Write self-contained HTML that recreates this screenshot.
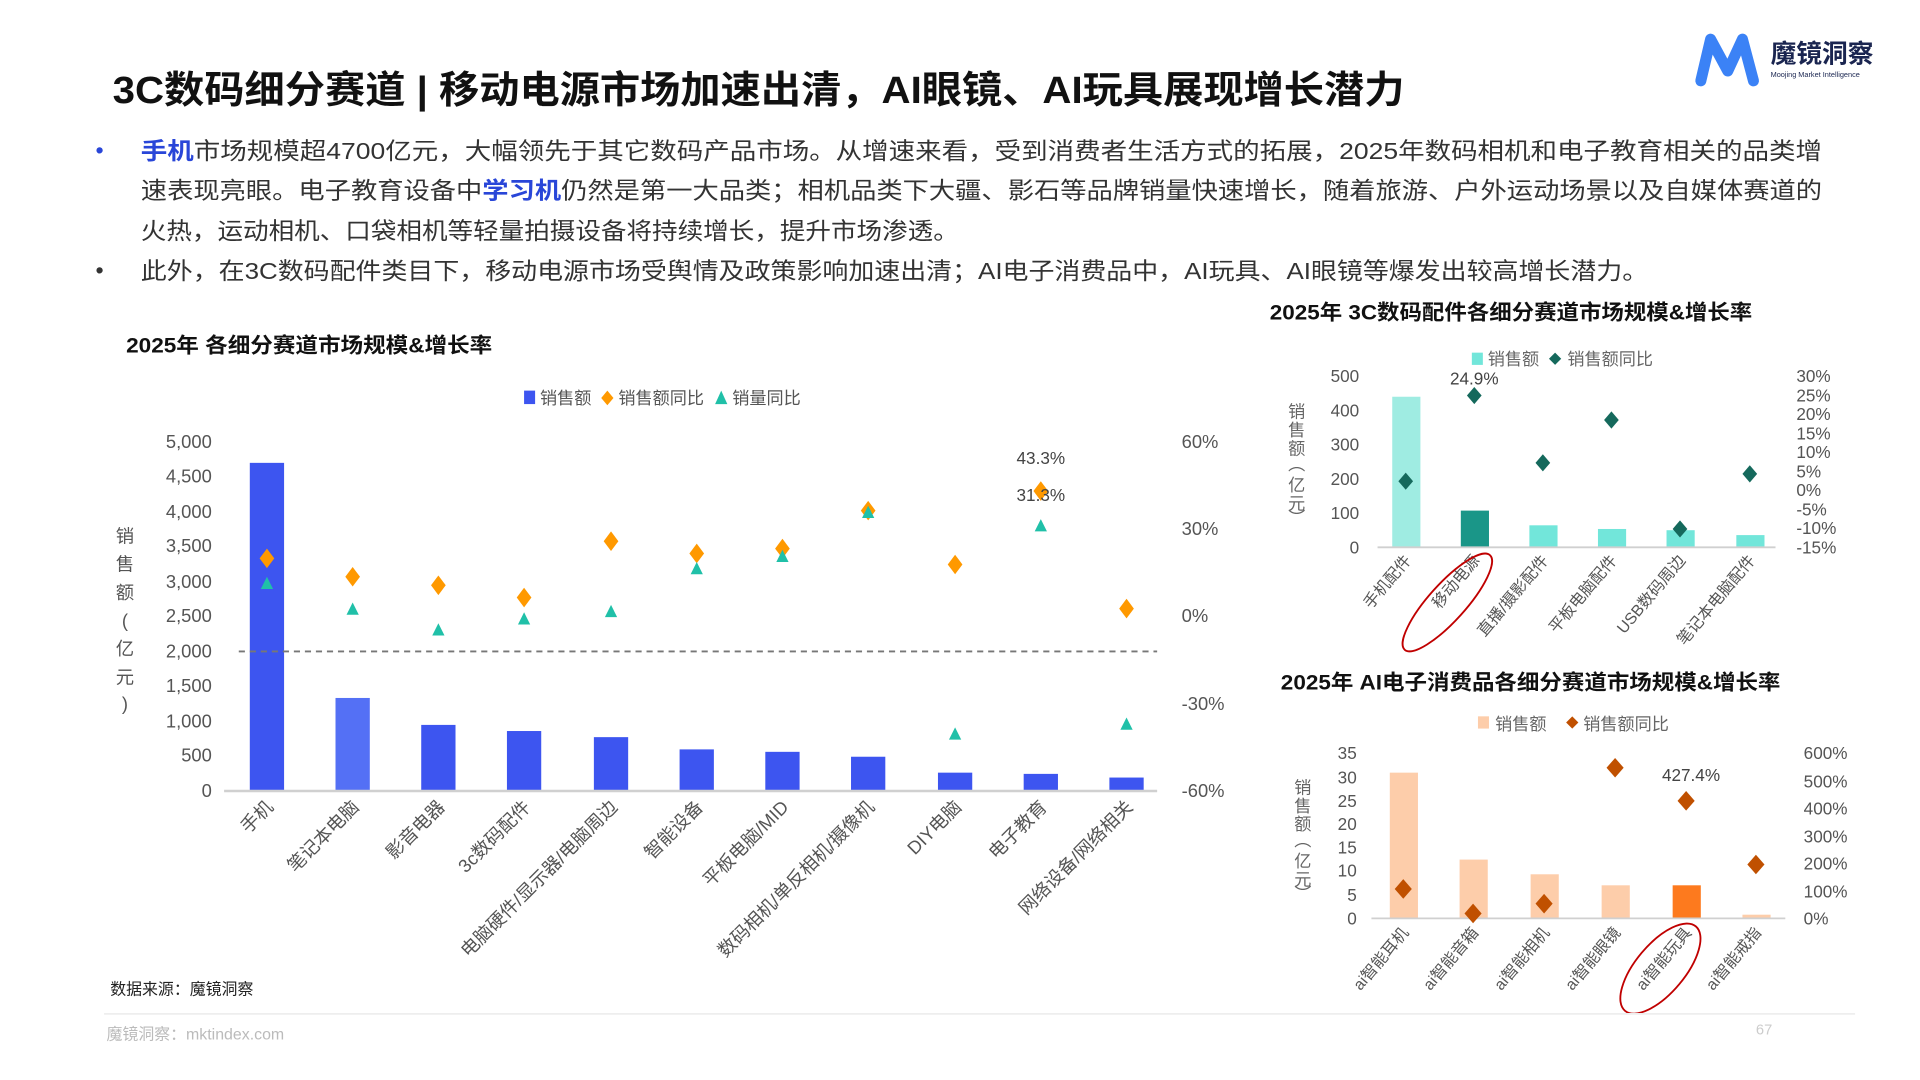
<!DOCTYPE html>
<html><head><meta charset="utf-8"><style>
html,body{margin:0;padding:0;background:#fff;width:1920px;height:1080px;overflow:hidden}
svg text{font-family:"Liberation Sans","Noto Sans CJK SC",sans-serif}
</style></head><body>
<svg width="1920" height="1080" viewBox="0 0 1568 882" preserveAspectRatio="none" xmlns="http://www.w3.org/2000/svg">
<!-- logo -->
<path d="M1389 66 L1397 32 L1411 58 L1423 32 L1432 66" fill="none" stroke="#3b82f6" stroke-width="9" stroke-linejoin="round" stroke-linecap="round"/>
<text x="1446" y="51" font-size="21" font-weight="bold" fill="#1a2550">魔镜洞察</text>
<text x="1446" y="63" font-size="6" fill="#1a2550">Moojing Market Intelligence</text>
<!-- title -->
<text x="92" y="84" font-size="31" font-weight="bold" fill="#111" textLength="1055" lengthAdjust="spacingAndGlyphs">3C数码细分赛道 | 移动电源市场加速出清，AI眼镜、AI玩具展现增长潜力</text>
<!-- paragraph -->
<g font-size="19" fill="#333">
<text x="78" y="129" fill="#2946d8">•</text>
<text x="115" y="130" textLength="1373" lengthAdjust="spacingAndGlyphs"><tspan fill="#2946d8" font-weight="bold">手机</tspan>市场规模超4700亿元，大幅领先于其它数码产品市场。从增速来看，受到消费者生活方式的拓展，2025年数码相机和电子教育相关的品类增</text>
<text x="115" y="162" textLength="1373" lengthAdjust="spacingAndGlyphs">速表现亮眼。电子教育设备中<tspan fill="#2946d8" font-weight="bold">学习机</tspan>仍然是第一大品类；相机品类下大疆、影石等品牌销量快速增长，随着旅游、户外运动场景以及自媒体赛道的</text>
<text x="115" y="195" textLength="668" lengthAdjust="spacingAndGlyphs">火热，运动相机、口袋相机等轻量拍摄设备将持续增长，提升市场渗透。</text>
<text x="78" y="227">•</text>
<text x="115" y="228" textLength="1231" lengthAdjust="spacingAndGlyphs">此外，在3C数码配件类目下，移动电源市场受舆情及政策影响加速出清；AI电子消费品中，AI玩具、AI眼镜等爆发出较高增长潜力。</text>
</g>
<!-- main chart -->
<text x="103" y="288" font-size="17" font-weight="bold" fill="#111" textLength="299" lengthAdjust="spacingAndGlyphs">2025年 各细分赛道市场规模&amp;增长率</text>
<g font-size="14" fill="#555">
<rect x="428" y="319" width="9" height="11" fill="#3d55f0"/><text x="441" y="330">销售额</text>
<path d="M496 319 L501 325 L496 331 L491 325Z" fill="#ff9900"/><text x="505" y="330">销售额同比</text>
<path d="M589 319 L594 330 L584 330Z" fill="#20c0a8"/><text x="598" y="330">销量同比</text>
</g>
<g font-size="15" fill="#555" text-anchor="end">
<text x="173" y="366">5,000</text><text x="173" y="394">4,500</text><text x="173" y="423">4,000</text><text x="173" y="451">3,500</text><text x="173" y="480">3,000</text><text x="173" y="508">2,500</text><text x="173" y="537">2,000</text><text x="173" y="565">1,500</text><text x="173" y="594">1,000</text><text x="173" y="622">500</text><text x="173" y="651">0</text>
</g>
<g font-size="15" fill="#555">
<text x="965" y="366">60%</text><text x="965" y="437">30%</text><text x="965" y="508">0%</text><text x="965" y="580">-30%</text><text x="965" y="651">-60%</text>
</g>
<g font-size="15" fill="#555" text-anchor="middle">
<text x="102" y="443">销</text><text x="102" y="466">售</text><text x="102" y="489">额</text><text x="102" y="512">(</text><text x="102" y="535">亿</text><text x="102" y="558">元</text><text x="102" y="580">)</text>
</g>
<g fill="#3d55f0">
<rect x="204" y="378" width="28" height="268"/>
<rect x="274" y="570" width="28" height="76" fill="#5470f5"/>
<rect x="344" y="592" width="28" height="54"/>
<rect x="414" y="597" width="28" height="49"/>
<rect x="485" y="602" width="28" height="44"/>
<rect x="555" y="612" width="28" height="34"/>
<rect x="625" y="614" width="28" height="32"/>
<rect x="695" y="618" width="28" height="28"/>
<rect x="766" y="631" width="28" height="15"/>
<rect x="836" y="632" width="28" height="14"/>
<rect x="906" y="635" width="28" height="11"/>
</g>
<line x1="183" y1="646" x2="945" y2="646" stroke="#d0d0d0" stroke-width="2"/>
<line x1="195" y1="532" x2="945" y2="532" stroke="#777" stroke-width="1.5" stroke-dasharray="5,4"/>
<g fill="#ff9900">
<path d="M218 448l6 8-6 8-6-8z"/><path d="M288 463l6 8-6 8-6-8z"/><path d="M358 470l6 8-6 8-6-8z"/><path d="M428 480l6 8-6 8-6-8z"/><path d="M499 434l6 8-6 8-6-8z"/><path d="M569 444l6 8-6 8-6-8z"/><path d="M639 440l6 8-6 8-6-8z"/><path d="M709 409l6 8-6 8-6-8z"/><path d="M780 453l6 8-6 8-6-8z"/><path d="M850 393l6 8-6 8-6-8z"/><path d="M920 489l6 8-6 8-6-8z"/>
</g>
<g fill="#20c0a8">
<path d="M218 471l5 10h-10z"/><path d="M288 492l5 10h-10z"/><path d="M358 509l5 10h-10z"/><path d="M428 500l5 10h-10z"/><path d="M499 494l5 10h-10z"/><path d="M569 459l5 10h-10z"/><path d="M639 449l5 10h-10z"/><path d="M709 413l5 10h-10z"/><path d="M780 594l5 10h-10z"/><path d="M850 424l5 10h-10z"/><path d="M920 586l5 10h-10z"/>
</g>
<g font-size="14" fill="#444" text-anchor="middle"><text x="850" y="379">43.3%</text><text x="850" y="409">31.3%</text></g>
<g font-size="15" fill="#555" text-anchor="end">
<text transform="translate(224,660) rotate(-45)">手机</text>
<text transform="translate(294,660) rotate(-45)">笔记本电脑</text>
<text transform="translate(364,660) rotate(-45)">影音电器</text>
<text transform="translate(434,660) rotate(-45)">3c数码配件</text>
<text transform="translate(505,660) rotate(-45)">电脑硬件/显示器/电脑周边</text>
<text transform="translate(575,660) rotate(-45)">智能设备</text>
<text transform="translate(645,660) rotate(-45)">平板电脑/MID</text>
<text transform="translate(715,660) rotate(-45)">数码相机/单反相机/摄像机</text>
<text transform="translate(786,660) rotate(-45)">DIY电脑</text>
<text transform="translate(856,660) rotate(-45)">电子教育</text>
<text transform="translate(926,660) rotate(-45)">网络设备/网络相关</text>
</g>
<text x="90" y="812" font-size="13" fill="#222">数据来源：魔镜洞察</text>
<!-- top right chart -->
<text x="1037" y="261" font-size="17" font-weight="bold" fill="#111" textLength="394" lengthAdjust="spacingAndGlyphs">2025年 3C数码配件各细分赛道市场规模&amp;增长率</text>
<g font-size="14" fill="#666">
<rect x="1202" y="288" width="9" height="10" fill="#72e6da"/><text x="1215" y="298">销售额</text>
<path d="M1270 288l5 5-5 5-5-5z" fill="#15695c"/><text x="1280" y="298">销售额同比</text>
</g>
<g font-size="14" fill="#555" text-anchor="end">
<text x="1110" y="312">500</text><text x="1110" y="340">400</text><text x="1110" y="368">300</text><text x="1110" y="396">200</text><text x="1110" y="424">100</text><text x="1110" y="452">0</text>
</g>
<g font-size="14" fill="#555">
<text x="1467" y="312">30%</text><text x="1467" y="328">25%</text><text x="1467" y="343">20%</text><text x="1467" y="359">15%</text><text x="1467" y="374">10%</text><text x="1467" y="390">5%</text><text x="1467" y="405">0%</text><text x="1467" y="421">-5%</text><text x="1467" y="436">-10%</text><text x="1467" y="452">-15%</text>
</g>
<g font-size="14" fill="#666" text-anchor="middle"><text x="1059" y="341">销</text><text x="1059" y="356">售</text><text x="1059" y="371">额</text><text x="1059" y="384">︵</text><text x="1059" y="401">亿</text><text x="1059" y="416">元</text><text x="1059" y="428">︶</text></g>
<rect x="1137" y="324" width="23" height="123" fill="#9fece2"/>
<rect x="1193" y="417" width="23" height="30" fill="#1a9688"/>
<rect x="1249" y="429" width="23" height="18" fill="#72e6da"/>
<rect x="1305" y="432" width="23" height="15" fill="#72e6da"/>
<rect x="1361" y="433" width="23" height="14" fill="#72e6da"/>
<rect x="1418" y="437" width="23" height="10" fill="#72e6da"/>
<line x1="1125" y1="447" x2="1450" y2="447" stroke="#d0d0d0" stroke-width="1.5"/>
<g fill="#15695c"><path d="M1148 386l6 7-6 7-6-7z"/><path d="M1204 316l6 7-6 7-6-7z"/><path d="M1260 371l6 7-6 7-6-7z"/><path d="M1316 336l6 7-6 7-6-7z"/><path d="M1372 425l6 7-6 7-6-7z"/><path d="M1429 380l6 7-6 7-6-7z"/></g>
<text x="1204" y="314" font-size="14" fill="#444" text-anchor="middle">24.9%</text>
<g font-size="13" fill="#555" text-anchor="end">
<text transform="translate(1153,458) rotate(-50)">手机配件</text>
<text transform="translate(1209,458) rotate(-50)">移动电源</text>
<text transform="translate(1265,458) rotate(-50)">直播/摄影配件</text>
<text transform="translate(1321,458) rotate(-50)">平板电脑配件</text>
<text transform="translate(1377,458) rotate(-50)">USB数码周边</text>
<text transform="translate(1434,458) rotate(-50)">笔记本电脑配件</text>
</g>
<ellipse cx="1182" cy="492" rx="52" ry="15" transform="rotate(-48 1182 492)" fill="none" stroke="#c00000" stroke-width="1.5"/>
<!-- bottom right chart -->
<text x="1046" y="563" font-size="17" font-weight="bold" fill="#111" textLength="408" lengthAdjust="spacingAndGlyphs">2025年 AI电子消费品各细分赛道市场规模&amp;增长率</text>
<g font-size="14" fill="#666">
<rect x="1207" y="585" width="9" height="10" fill="#fdcdaa"/><text x="1221" y="596">销售额</text>
<path d="M1284 585l5 5-5 5-5-5z" fill="#c05000"/><text x="1293" y="596">销售额同比</text>
</g>
<g font-size="14" fill="#555" text-anchor="end">
<text x="1108" y="620">35</text><text x="1108" y="640">30</text><text x="1108" y="659">25</text><text x="1108" y="678">20</text><text x="1108" y="697">15</text><text x="1108" y="716">10</text><text x="1108" y="736">5</text><text x="1108" y="755">0</text>
</g>
<g font-size="14" fill="#555">
<text x="1473" y="620">600%</text><text x="1473" y="643">500%</text><text x="1473" y="665">400%</text><text x="1473" y="688">300%</text><text x="1473" y="710">200%</text><text x="1473" y="733">100%</text><text x="1473" y="755">0%</text>
</g>
<g font-size="14" fill="#666" text-anchor="middle"><text x="1064" y="648">销</text><text x="1064" y="663">售</text><text x="1064" y="678">额</text><text x="1064" y="691">︵</text><text x="1064" y="708">亿</text><text x="1064" y="723">元</text><text x="1064" y="735">︶</text></g>
<rect x="1135" y="631" width="23" height="119" fill="#fdcdaa"/>
<rect x="1192" y="702" width="23" height="48" fill="#fdcdaa"/>
<rect x="1250" y="714" width="23" height="36" fill="#fdcdaa"/>
<rect x="1308" y="723" width="23" height="27" fill="#fdcdaa"/>
<rect x="1366" y="723" width="23" height="27" fill="#fd7a1e"/>
<rect x="1423" y="747" width="23" height="3" fill="#fdcdaa"/>
<line x1="1120" y1="750" x2="1458" y2="750" stroke="#d0d0d0" stroke-width="1.5"/>
<g fill="#c05000"><path d="M1146 718l7 8-7 8-7-8z"/><path d="M1203 738l7 8-7 8-7-8z"/><path d="M1261 730l7 8-7 8-7-8z"/><path d="M1319 619l7 8-7 8-7-8z"/><path d="M1377 646l7 8-7 8-7-8z"/><path d="M1434 698l7 8-7 8-7-8z"/></g>
<text x="1381" y="638" font-size="14" fill="#444" text-anchor="middle">427.4%</text>
<g font-size="13" fill="#555" text-anchor="end">
<text transform="translate(1151,762) rotate(-50)">ai智能耳机</text>
<text transform="translate(1208,762) rotate(-50)">ai智能音箱</text>
<text transform="translate(1266,762) rotate(-50)">ai智能相机</text>
<text transform="translate(1324,762) rotate(-50)">ai智能眼镜</text>
<text transform="translate(1382,762) rotate(-50)">ai智能玩具</text>
<text transform="translate(1439,762) rotate(-50)">ai智能戒指</text>
</g>
<ellipse cx="1356" cy="791" rx="45" ry="20" transform="rotate(-50 1356 791)" fill="none" stroke="#c00000" stroke-width="1.5"/>
<!-- footer -->
<line x1="85" y1="828" x2="1515" y2="828" stroke="#eee" stroke-width="1.5"/>
<text x="87" y="849" font-size="13" fill="#bbb">魔镜洞察：mktindex.com</text>
<text x="1434" y="845" font-size="12" fill="#ccc">67</text>
</svg>
</body></html>
